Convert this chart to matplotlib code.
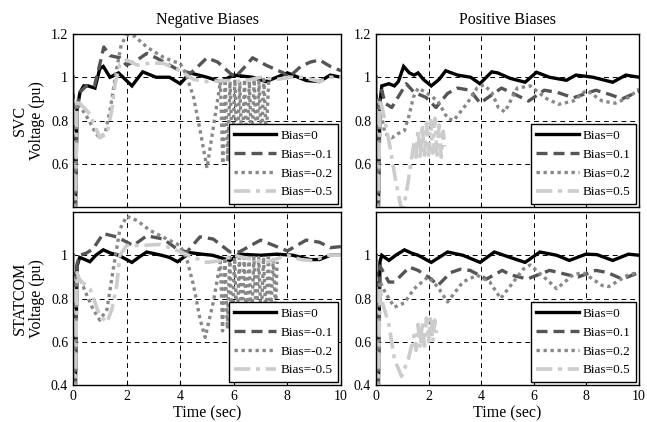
import matplotlib
matplotlib.use("Agg")
import matplotlib.pyplot as plt

plt.rcParams['font.family'] = ['Liberation Serif', 'DejaVu Serif']

# ---- SVC, negative biases ----
svc_n0_t = [0, 0.03, 0.08, 0.15, 0.26, 0.4, 0.56, 0.82, 1.0, 1.13, 1.38, 1.7, 2.2, 2.6, 3.1, 3.6, 4.0, 4.37,
            5.0, 5.5, 6.0, 6.7, 7.2, 8.0, 8.7, 9.2, 9.6, 10]
svc_n0_v = [1.0, 0.3, 0.3, 0.85, 0.93, 0.96, 0.96, 0.95, 1.04, 1.05, 1.0, 1.02, 0.96, 1.025, 1.0, 1.0, 0.97, 1.02,
            1.0, 0.98, 1.01, 1.0, 0.98, 1.02, 0.985, 0.98, 1.01, 1.0]
svc_n1_t = [0, 0.03, 0.08, 0.15, 0.25, 0.5, 0.8, 1.0, 1.15, 1.38, 1.75, 2.0, 2.4, 2.75, 3.1, 3.6, 4.0, 4.4,
            4.75, 5.0, 5.4, 5.85, 6.05, 6.5, 6.7, 7.2, 7.85, 8.05, 8.5, 8.85, 9.2, 9.6, 10]
svc_n1_v = [1.0, 0.3, 0.3, 0.86, 0.93, 0.96, 0.96, 1.06, 1.14, 1.10, 1.09, 1.056, 1.08, 1.11, 1.09, 1.056, 1.03, 1.02,
            1.06, 1.09, 1.07, 1.02, 1.0, 1.06, 1.09, 1.056, 1.02, 1.0, 1.05, 1.07, 1.08, 1.05, 1.03]
svc_n2_t = [0, 0.03, 0.08, 0.15, 0.3, 0.6, 0.85, 1.0, 1.2, 1.4, 1.6, 1.8, 2.0, 2.3, 2.75, 3.0, 3.37, 3.7, 4.0,
            4.2, 4.5, 4.75, 5.0, 5.25, 5.5, 5.59, 5.68, 5.77, 5.86, 5.95, 6.04, 6.13, 6.22, 6.31, 6.40, 6.49,
            6.58, 6.67, 6.76, 6.85, 6.94, 7.03, 7.12, 7.21, 7.3]
svc_n2_v = [1.0, 0.3, 0.3, 0.88, 0.86, 0.8, 0.74, 0.72, 0.74, 0.86, 1.02, 1.15, 1.195, 1.19, 1.14, 1.12, 1.093, 1.075,
            1.064, 1.02, 0.907, 0.75, 0.58, 0.78, 0.98, 0.60, 0.99, 0.61, 0.98, 0.62, 0.99, 0.63, 0.98, 0.64,
            0.99, 0.65, 0.98, 0.66, 0.99, 0.68, 0.98, 0.70, 0.99, 0.72, 0.98]
svc_n3_t = [0, 0.03, 0.08, 0.15, 0.25, 0.63, 1.0, 1.27, 1.45, 1.57, 1.75, 2.0, 2.4, 2.87, 3.36, 4.0, 4.5, 5.0,
            5.75, 6.3, 7.0, 7.6, 8.1, 8.6, 9.2, 9.6, 10]
svc_n3_v = [1.0, 0.3, 0.3, 0.9, 0.88, 0.83, 0.72, 0.74, 0.85, 0.97, 1.06, 1.08, 1.056, 1.065, 1.065, 1.03, 0.99, 0.98,
            0.985, 0.98, 1.0, 0.99, 1.0, 1.0, 0.98, 1.0, 1.0]

# ---- SVC, positive biases ----
svc_p0_t = [0, 0.03, 0.08, 0.15, 0.22, 0.49, 0.7, 0.85, 1.05, 1.27, 1.45, 1.6, 1.8, 2.1, 2.4, 2.65, 3.1, 3.6,
            3.95, 4.4, 4.63, 5.1, 5.67, 6.1, 6.6, 7.24, 7.6, 8.25, 9.0, 9.5, 10]
svc_p0_v = [1.0, 0.3, 0.3, 0.88, 0.96, 0.97, 0.96, 0.98, 1.05, 1.02, 1.01, 1.02, 0.99, 0.96, 0.99, 1.03, 1.01, 1.0,
            0.97, 1.025, 1.02, 0.995, 0.977, 1.023, 1.0, 0.986, 1.01, 1.0, 0.977, 1.01, 1.0]
svc_p1_t = [0, 0.03, 0.08, 0.15, 0.22, 0.34, 0.6, 0.85, 1.15, 1.45, 1.9, 2.28, 2.72, 3.1, 3.58, 3.96, 4.3, 4.77,
            5.3, 5.8, 6.4, 6.9, 7.5, 8.36, 8.9, 9.36, 10]
svc_p1_v = [1.0, 0.3, 0.3, 0.9, 0.94, 0.88, 0.86, 0.91, 0.97, 0.93, 0.907, 0.86, 0.925, 0.95, 0.94, 0.88, 0.91, 0.95,
            0.92, 0.89, 0.94, 0.93, 0.905, 0.94, 0.92, 0.9, 0.935]
svc_p2_t = [0, 0.03, 0.08, 0.15, 0.34, 0.6, 0.85, 1.08, 1.25, 1.42, 1.6, 1.9, 2.35, 2.72, 2.95, 3.47, 3.84, 4.1,
            4.4, 4.65, 4.9, 5.37, 5.86, 6.5, 6.95, 7.5, 8.0, 8.6, 9.1, 9.6, 10]
svc_p2_v = [1.0, 0.3, 0.3, 0.86, 0.74, 0.72, 0.74, 0.753, 0.82, 0.907, 0.95, 0.93, 0.89, 0.81, 0.8, 0.88, 0.95, 0.965,
            0.93, 0.86, 0.84, 0.95, 0.96, 0.9, 0.875, 0.89, 0.94, 0.89, 0.88, 0.907, 0.945]
svc_p3_t = [0, 0.03, 0.08, 0.15, 0.25, 0.5, 0.75, 0.95, 1.05, 1.2, 1.35, 1.45, 1.52, 1.6, 1.68, 1.76, 1.84, 1.92,
            2.0, 2.08, 2.16, 2.24, 2.32, 2.40, 2.48, 2.56, 2.62]
svc_p3_v = [1.0, 0.3, 0.3, 0.9, 0.85, 0.7, 0.52, 0.4, 0.395, 0.5, 0.62, 0.7, 0.63, 0.76, 0.62, 0.78, 0.63, 0.79,
            0.64, 0.8, 0.65, 0.81, 0.64, 0.78, 0.63, 0.75, 0.68]

# ---- STATCOM, negative biases ----
stc_n0_t = [0, 0.03, 0.08, 0.15, 0.25, 0.45, 0.63, 0.85, 1.13, 1.4, 1.7, 2.0, 2.2, 2.45, 2.75, 3.3, 3.6, 3.9,
            4.37, 4.8, 5.2, 5.86, 6.2, 7.0, 7.6, 8.2, 8.85, 9.2, 9.6, 10]
stc_n0_v = [1.0, 0.3, 0.3, 0.95, 0.99, 0.98, 0.97, 1.0, 1.025, 1.01, 1.0, 0.98, 0.967, 0.99, 1.015, 1.0, 0.99, 0.97,
            1.012, 1.005, 1.0, 0.976, 1.005, 1.0, 1.005, 1.0, 0.98, 0.98, 1.0, 1.0]
stc_n1_t = [0, 0.03, 0.08, 0.15, 0.25, 0.5, 0.75, 1.13, 1.63, 2.25, 2.75, 3.37, 3.87, 4.25, 4.74, 5.23, 5.86, 6.2,
            7.0, 7.5, 8.0, 8.7, 9.2, 9.6, 10]
stc_n1_v = [1.0, 0.3, 0.3, 0.96, 1.0, 1.01, 1.03, 1.1, 1.085, 1.045, 1.09, 1.075, 1.03, 1.015, 1.085, 1.075, 1.015, 1.015,
            1.07, 1.045, 1.02, 1.07, 1.06, 1.035, 1.04]
stc_n2_t = [0, 0.03, 0.08, 0.15, 0.3, 0.5, 0.75, 1.0, 1.27, 1.5, 1.75, 2.0, 2.4, 2.87, 3.5, 4.0, 4.25, 4.5, 4.74,
            4.93, 5.23, 5.5, 5.58, 5.67, 5.76, 5.85, 5.94, 6.03, 6.12, 6.21, 6.30, 6.39, 6.48, 6.57, 6.66, 6.75,
            6.84, 6.93, 7.02, 7.11, 7.20, 7.29, 7.38, 7.47, 7.56, 7.62]
stc_n2_v = [1.0, 0.3, 0.3, 0.9, 0.88, 0.82, 0.75, 0.70, 0.75, 0.935, 1.12, 1.18, 1.16, 1.115, 1.075, 1.045, 0.98, 0.86,
            0.705, 0.62, 0.78, 0.97, 0.65, 0.99, 0.66, 0.99, 0.66, 0.99, 0.67, 0.99, 0.67, 0.99, 0.68, 0.99, 0.68,
            0.99, 0.69, 0.99, 0.70, 0.99, 0.71, 0.99, 0.73, 0.98, 0.76, 0.97]
stc_n3_t = [0, 0.03, 0.08, 0.15, 0.25, 0.63, 1.0, 1.27, 1.45, 1.63, 1.75, 2.0, 2.5, 3.25, 3.73, 4.5, 5.0, 5.5,
            6.0, 6.7, 7.2, 8.0, 8.5, 8.95, 9.5, 10]
stc_n3_v = [1.0, 0.3, 0.3, 0.92, 0.885, 0.845, 0.72, 0.69, 0.75, 0.86, 1.0, 1.045, 1.045, 1.05, 1.03, 0.99, 0.967, 0.975,
            1.0, 0.98, 0.967, 1.0, 0.98, 0.975, 1.0, 1.0]

# ---- STATCOM, positive biases ----
stc_p0_t = [0, 0.03, 0.08, 0.15, 0.22, 0.49, 0.75, 1.08, 1.35, 1.6, 2.1, 2.4, 2.72, 3.3, 3.96, 4.5, 5.1, 5.67,
            6.23, 6.87, 7.35, 7.98, 8.4, 9.0, 9.6, 10]
stc_p0_v = [1.0, 0.3, 0.3, 0.97, 1.0, 0.976, 1.0, 1.025, 1.01, 1.0, 0.967, 0.99, 1.015, 1.0, 0.967, 1.015, 0.99, 0.967,
            1.015, 1.0, 0.976, 1.005, 1.003, 0.976, 1.005, 1.0]
stc_p1_t = [0, 0.03, 0.08, 0.15, 0.22, 0.49, 0.7, 1.27, 1.6, 2.1, 2.35, 2.84, 3.2, 3.58, 4.2, 4.8, 5.1, 5.75,
            6.6, 7.35, 7.7, 8.36, 8.8, 9.36, 10]
stc_p1_v = [1.0, 0.3, 0.3, 0.95, 0.935, 0.876, 0.876, 0.945, 0.93, 0.89, 0.86, 0.92, 0.935, 0.93, 0.89, 0.93, 0.91, 0.89,
            0.93, 0.908, 0.9, 0.93, 0.92, 0.89, 0.92]
stc_p2_t = [0, 0.03, 0.08, 0.15, 0.3, 0.49, 0.7, 1.08, 1.45, 1.98, 2.35, 2.72, 3.3, 3.84, 4.33, 4.74, 5.6, 5.86,
            6.6, 6.87, 7.5, 7.87, 8.6, 8.85, 9.6, 10]
stc_p2_v = [1.0, 0.3, 0.3, 0.88, 0.84, 0.8, 0.76, 0.78, 0.845, 0.9, 0.853, 0.784, 0.876, 0.908, 0.876, 0.8, 0.936, 0.955,
            0.876, 0.845, 0.91, 0.92, 0.86, 0.855, 0.91, 0.92]
stc_p3_t = [0, 0.03, 0.08, 0.15, 0.25, 0.49, 0.7, 0.97, 1.23, 1.45, 1.52, 1.6, 1.68, 1.76, 1.84, 1.92, 2.0, 2.08,
            2.16, 2.24, 2.3]
stc_p3_v = [1.0, 0.3, 0.3, 0.85, 0.78, 0.68, 0.52, 0.44, 0.52, 0.63, 0.56, 0.68, 0.57, 0.69, 0.58, 0.71, 0.6, 0.72,
            0.6, 0.7, 0.64]

neg_labels = ['Bias=0', 'Bias=-0.1', 'Bias=-0.2', 'Bias=-0.5']
pos_labels = ['Bias=0', 'Bias=0.1', 'Bias=0.2', 'Bias=0.5']

styles = [
    dict(color='black', lw=2.4, ls='-'),
    dict(color='#555555', lw=2.4, ls=(0, (3.3, 1.8))),
    dict(color='#888888', lw=2.4, ls=(0, (1, 1.1))),
    dict(color='#cccccc', lw=2.6, ls=(0, (4.5, 1.6, 1.1, 1.6))),
]

W, H = 647, 422
fig = plt.figure(figsize=(W / 100, H / 100), dpi=100)


def make_ax(x0, y0, x1, y1):
    return fig.add_axes([x0 / W, 1 - y1 / H, (x1 - x0) / W, (y1 - y0) / H])


ax_tl = make_ax(73, 34, 341, 207)
ax_tr = make_ax(376, 34, 639, 207)
ax_bl = make_ax(73, 212, 341, 385)
ax_br = make_ax(376, 212, 639, 385)

panels = [
    (ax_tl, [(svc_n0_t, svc_n0_v), (svc_n1_t, svc_n1_v), (svc_n2_t, svc_n2_v), (svc_n3_t, svc_n3_v)], neg_labels),
    (ax_tr, [(svc_p0_t, svc_p0_v), (svc_p1_t, svc_p1_v), (svc_p2_t, svc_p2_v), (svc_p3_t, svc_p3_v)], pos_labels),
    (ax_bl, [(stc_n0_t, stc_n0_v), (stc_n1_t, stc_n1_v), (stc_n2_t, stc_n2_v), (stc_n3_t, stc_n3_v)], neg_labels),
    (ax_br, [(stc_p0_t, stc_p0_v), (stc_p1_t, stc_p1_v), (stc_p2_t, stc_p2_v), (stc_p3_t, stc_p3_v)], pos_labels),
]

for ax, curves, labels in panels:
    for (t, v), st, lab in zip(curves, styles, labels):
        ax.plot(t, v, label=lab, solid_joinstyle='miter', dash_capstyle='butt', **st)
    ax.set_xlim(0, 10)
    ax.set_ylim(0.4, 1.2)
    ax.set_xticks([0, 2, 4, 6, 8, 10])
    ax.grid(True, color='black', lw=0.7, ls=(0, (5, 4)))
    ax.tick_params(direction='in', length=3, labelsize=10, colors='black')
    for sp in ax.spines.values():
        sp.set_linewidth(1.0)
    leg = ax.legend(loc='lower right', fontsize=9.5, handlelength=3.2, labelspacing=0.5,
                    borderaxespad=0.25, fancybox=False, framealpha=1, edgecolor='black',
                    borderpad=0.4, handletextpad=0.3)
    leg.get_frame().set_linewidth(1.0)

for ax in (ax_tl, ax_tr):
    ax.set_yticks([0.6, 0.8, 1.0, 1.2], ['0.6', '0.8', '1', '1.2'])
    ax.set_xticklabels([])
for ax in (ax_bl, ax_br):
    ax.set_yticks([0.4, 0.6, 0.8, 1.0], ['0.4', '0.6', '0.8', '1'])
    ax.set_xticklabels(['0', '2', '4', '6', '8', '10'])
    ax.set_xlabel('Time (sec)', fontsize=11.5, labelpad=2)

ax_tl.set_title('Negative Biases', fontsize=11.5, pad=7)
ax_tr.set_title('Positive Biases', fontsize=11.5, pad=7)
ax_tl.set_ylabel('SVC\nVoltage (pu)', fontsize=11.5, labelpad=4, linespacing=1.1)
ax_bl.set_ylabel('STATCOM\nVoltage (pu)', fontsize=11.5, labelpad=4, linespacing=1.1)

fig.savefig('out.png', dpi=100)
